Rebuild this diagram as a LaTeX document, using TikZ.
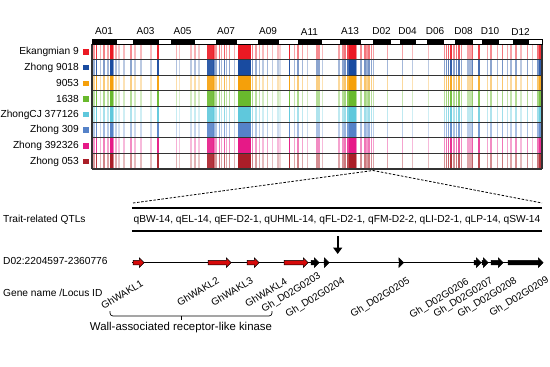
\documentclass[tikz,border=0pt]{standalone}
\usepackage{fontspec}
\setmainfont{Liberation Sans}
\usetikzlibrary{arrows.meta,positioning,shapes.arrows}

\definecolor{ekred}{RGB}{235,25,35}
\definecolor{zdblue}{RGB}{25,75,160}
\definecolor{zorange}{RGB}{245,160,10}
\definecolor{zgreen}{RGB}{105,185,45}
\definecolor{zcyan}{RGB}{95,200,220}
\definecolor{zmblue}{RGB}{85,130,200}
\definecolor{zpink}{RGB}{230,25,135}
\definecolor{zdred}{RGB}{170,30,40}
\definecolor{genered}{RGB}{215,10,10}

\newcommand\stripelist{93/1.5/0.45, 95.5/1/0.9, 99.5/1/0.35, 103/1/0.55, 107/1.5/0.4, 109.5/2.2/1.0, 112.5/1/0.55, 115/1.5/0.35, 118/1/0.25, 123/1/0.3, 129.5/2/0.5, 134/1/0.3, 140/1/0.3, 150/1/0.3, 157/1/0.95, 175.5/1/0.35, 178.5/1/0.25, 190/1/0.3, 194/1/0.35, 198/1/0.25, 207/5.5/0.9, 213/1/0.6, 215/1/0.45, 218.5/1/0.6, 220.5/1/0.4, 223.5/1/0.7, 225.5/1/0.4, 228.5/1/0.5, 233.5/1/0.35, 238/10/1.0, 248.5/1.5/0.7, 251.5/1/0.55, 255/1/0.45, 258.5/1/0.4, 262/1/0.3, 266.5/1/0.4, 271.5/1/0.3, 277/1/0.3, 279/1/0.2, 288.5/1/0.95, 293.5/1/0.4, 297/1/0.55, 301.5/1/0.4, 306.5/1/0.3, 316/3/0.5, 321.5/1/0.3, 338/1/0.4, 341.5/1.5/0.5, 344/1/0.6, 346.5/1.5/0.8, 348.5/5.5/1.0, 355/1/0.5, 360/1/0.5, 364/1/0.6, 366/1/0.45, 368/1.5/0.6, 370.5/1/0.5, 372.5/1/0.4, 386.5/1/0.4, 401.5/1/0.4, 411.5/1/0.3, 427.5/1/0.3, 443.5/1/0.5, 445.5/1/0.6, 447.5/1/0.7, 450/1/0.9, 453/1/0.5, 455.5/1/0.6, 458/1/0.75, 460.5/1/0.5, 466.5/4/0.4, 471.5/1/0.7, 478/1/0.8, 486.5/1/0.4, 490/1/0.5, 496.5/1/0.4, 501.5/1/0.6, 506.5/1/0.4, 510/1/0.4, 515/1/0.5, 520/1/0.3, 526.5/1/0.5, 531.5/1/0.3, 536.5/1.5/0.6, 539/2.5/0.9}

\begin{document}
\begin{tikzpicture}[x=1pt,y=-1pt,
	rowlab/.style={anchor=east,inner sep=0pt,font=\fontsize{10.2}{12}\selectfont},
	key/.style={minimum size=5.5pt,inner sep=0pt},
	chrseg/.style={draw=black,fill=black,line width=0.6pt,minimum height=5pt,inner sep=0pt},
	chrlab/.style={inner sep=0pt,font=\fontsize{10}{12}\selectfont},
	rowline/.style={draw=black!80,line width=1.1pt},
	sidelab/.style={anchor=west,inner sep=0pt,font=\fontsize{10.2}{12}\selectfont},
	gene/.style={single arrow,draw=black,line width=0.5pt,inner sep=0pt,
		text height=2pt,text depth=2pt,single arrow head extend=2.5pt},
	genelab/.style={anchor=east,rotate=32,inner sep=0pt,font=\fontsize{10}{12}\selectfont}]
	\useasboundingbox (0,0) rectangle (550,367);

	% heat map
	\foreach \c [count=\k from 0] in {ekred,zdblue,zorange,zgreen,zcyan,zmblue,zpink,zdred}
		\foreach \x/\w/\o in \stripelist
			\fill[\c,fill opacity=\o] (\x,{44+15.625*\k}) rectangle ++({\w*1.3+0.3},15.625);
	\foreach \k in {0,...,8}
		\draw[rowline] (92,{44+15.625*\k}) -- (542,{44+15.625*\k});
	\draw[rowline] (92,44) -- (92,169) (542,44) -- (542,169);

	\foreach \name/\c [count=\k from 0] in {Ekangmian 9/ekred,Zhong 9018/zdblue,9053/zorange,1638/zgreen,ZhongCJ 377126/zcyan,Zhong 309/zmblue,Zhong 392326/zpink,Zhong 053/zdred} {
		\node[rowlab] (lab\k) at (79,{52+15.625*\k}) {\name};
		\node[key,fill=\c,right=4pt of lab\k] (key\k) {};
	}

	% chromosomes
	\draw[fill=white,line width=0.6pt] (92,39) rectangle (542,44);
	\foreach \a/\b/\lab in {92/116/A01,133/158/A03,171/194/A05,216/236/A07,258/278/A09,298/321/A11,340/360/A13,373/390/D02,400/415/D04,427/443/D06,455/472/D08,482/498/D10,513/528/D12}
		\node[chrseg,minimum width={(\b-\a)*1pt},label={[chrlab,label distance=3.5pt]above:\lab}] (\lab) at ({(\a+\b)/2},41.5) {};

	% zoom into D02
	\coordinate (pick) at (373,170.5);
	\coordinate (fanL) at (133,203);
	\coordinate (fanR) at (542,203);
	\draw[line width=0.8pt,dash pattern=on 2.5pt off 1.6pt] (fanL) -- (pick) -- (fanR);

	\node[inner sep=0pt,minimum width=410pt,minimum height=23pt,font=\fontsize{10.2}{12}\selectfont] (qtl) at (337,219.5)
		{qBW-14, qEL-14, qEF-D2-1, qUHML-14, qFL-D2-1, qFM-D2-2, qLI-D2-1, qLP-14, qSW-14};
	\draw[line width=1.8pt] (qtl.north west) -- (qtl.north east);
	\draw[line width=1.8pt] (qtl.south west) -- (qtl.south east);

	\node[sidelab] (traitlab) at (3,220) {Trait-related QTLs};
	\node[sidelab] (poslab) at (3,261) {D02:2204597-2360776};
	\node[sidelab] (namelab) at (3,293) {Gene name /Locus ID};

	% gene track
	\coordinate (trL) at (132,262.7);
	\coordinate (trR) at (540,262.7);
	\draw[line width=1.3pt] (trL) -- (trR);
	\foreach \a/\b/\c/\n in {132/143/genered/wakl1,207/230/genered/wakl2,246/258/genered/wakl3,283/307/genered/wakl4,310/318/black/g0203,323/328/black/g0204,398/402.5/black/g0205,473/480/black/g0206,481/487/black/g0207,490/502/black/g0208,507/542/black/g0209}
		\node[gene,fill=\c,minimum height={(\b-\a)*1pt}] (\n) at ({(\a+\b)/2},262.7) {};

	\coordinate (dnA) at (337.7,236);
	\coordinate (dnB) at (337.7,254);
	\draw[line width=2.2pt,-{Triangle[width=9pt,length=6.5pt]}] (dnA) -- (dnB);

	\foreach \x/\y/\t in {142/282/GhWAKL1,218/279/GhWAKL2,252/279/GhWAKL3,286/280/GhWAKL4,320/275/Gh\_D02G0203,344/280/Gh\_D02G0204,409/280/Gh\_D02G0205,468/281/Gh\_D02G0206,492/280/Gh\_D02G0207,516/280/Gh\_D02G0208,548/279/Gh\_D02G0209}
		\node[genelab] at (\x,\y) {\t};

	\draw[line width=0.7pt,rounded corners=3pt] (110,311) |- (272,316) -- (272,311);
	\draw[line width=0.7pt] (181,316) -- (181,319.5);
	\node[inner sep=0pt,font=\fontsize{11.4}{13}\selectfont] (waklab) at (181,327.5) {Wall-associated receptor-like kinase};
\end{tikzpicture}
\end{document}
